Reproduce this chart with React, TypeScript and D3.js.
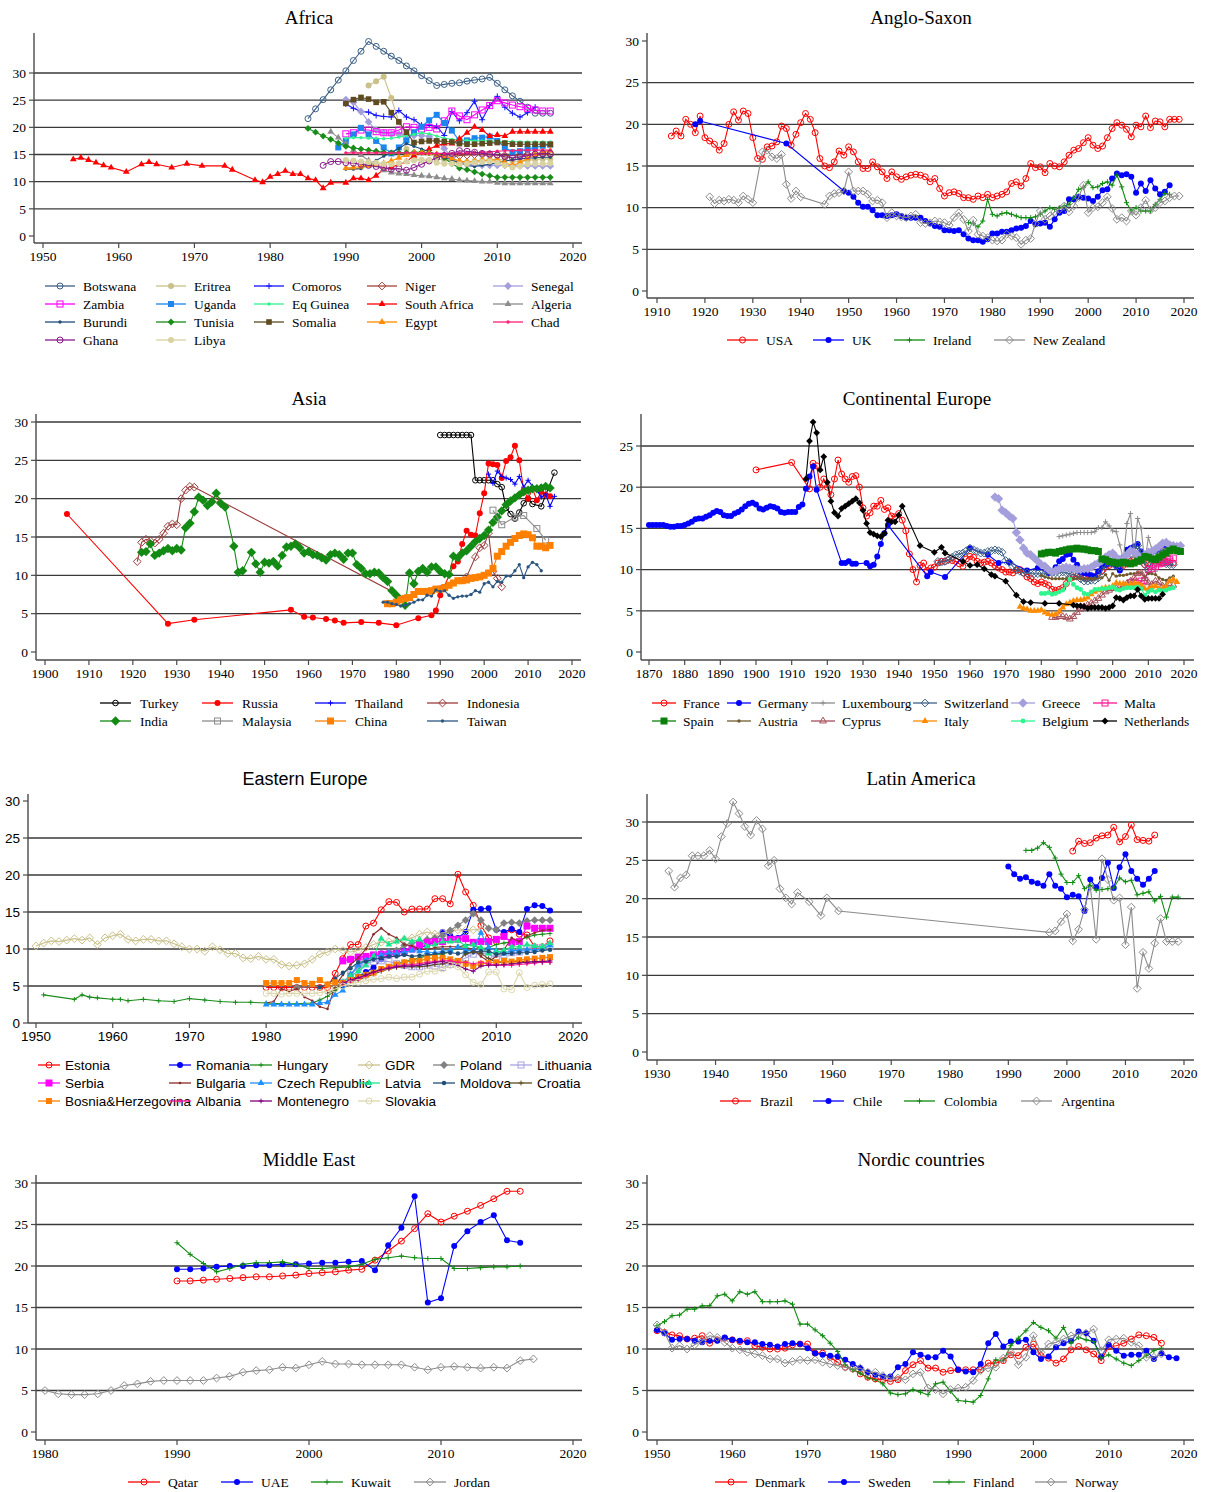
import React from "react";
import * as d3 from "d3";

type Pt = [number, number];
type MarkerKind =
  | "circleH" | "circle" | "dot" | "diamond" | "diamondH"
  | "square" | "squareH" | "triangle" | "triangleH" | "plus";

const annual = (start: number, values: number[]): Pt[] =>
  values.map((v, i) => [start + i, v] as Pt);

const SERIF = "'Liberation Serif', 'Times New Roman', Times, serif";
const SANS = "'Liberation Sans', Arial, Helvetica, sans-serif";

const RED = "#ff0000";
const BLUE = "#0000ff";
const GREEN = "#0f8a0f";
const GRAY = "#8c8c8c";

// ---------------- Africa ----------------
const botswana = annual(1985, [
  21.6, 23.4, 25.1, 26.9, 28.7,
  30.4, 32.3, 34.0, 35.8, 34.9, 34.0, 33.1, 32.3, 31.3, 30.4,
  29.5, 28.6, 27.7, 27.9, 28.1, 28.2, 28.5, 28.7, 28.9, 29.2,
  28.1, 26.9, 25.8, 24.8, 23.7, 22.6, 22.6, 22.6,
]);
const eritrea = annual(1993, [
  27.7, 28.5, 29.3, 25.4, 21.0, 16.0, 14.3,
  14.0, 13.9, 14.2, 14.0, 13.7, 13.5, 13.6, 13.8, 13.9, 14.0,
  14.1, 14.0, 13.8, 13.7, 13.9, 14.1, 14.2, 14.2,
]);
const comoros = annual(1990, [
  24.3, 23.5, 22.9, 22.8, 22.2, 22.0, 21.9, 23.1, 21.9, 21.4,
  20.4, 20.4, 20.2, 18.5, 22.9, 21.2, 22.7, 24.8, 21.4, 24.0,
  25.7, 23.7, 22.6, 21.9, 22.7, 23.7,
]);
const niger = annual(2004, [
  14.6, 14.8, 14.9, 15.0, 15.0, 14.9,
  14.9, 14.8, 14.8, 14.9, 15.0, 15.0, 15.0, 15.0,
]);
const senegal = annual(1990, [
  25.1, 24.6, 22.9, 21.0, 19.5, 19.0, 18.8, 18.7, 18.6, 18.5,
  18.5, 18.3, 17.5, 16.1, 14.5, 13.5, 13.2, 13.1, 13.0, 13.0,
  13.0, 13.0, 12.9, 12.9, 12.9, 12.9, 12.9, 12.9,
]);
const zambia = annual(1990, [
  18.8, 19.0, 19.5, 19.5, 19.2, 19.0, 19.0, 19.5, 20.1, 20.0,
  19.7, 20.0, 19.7, 21.2, 23.0, 22.1, 21.4, 22.3, 23.2, 24.0,
  24.9, 24.5, 24.1, 23.8, 23.5, 23.2, 23.0, 23.0,
]);
const uganda = annual(1989, [
  16.3,
  17.5, 18.7, 19.9, 18.7, 17.5, 16.3, 15.2, 16.3, 17.6, 19.1,
  20.1, 21.3, 22.3, 20.8, 19.4, 17.5, 17.6, 18.0, 18.1, 18.3,
  17.5, 16.3, 15.4, 15.6, 16.0, 16.3, 16.6, 16.8,
]);
const eqGuinea = annual(1990, [
  18.0, 18.1, 18.1, 18.0, 18.0, 17.9, 18.0, 18.2, 18.5, 18.7,
  19.0, 18.8, 18.4, 18.0, 17.8, 17.7, 17.6, 17.5, 17.5, 17.5,
  17.4, 17.4, 17.4, 17.3, 17.3, 17.3, 17.3, 17.3,
]);
const southAfrica: Pt[] = [
  [1954, 14.1], [1955, 14.4], [1956, 14.0], [1957, 13.5], [1958, 13.0], [1959, 12.6],
  [1961, 11.8], [1963, 13.2], [1964, 13.6], [1965, 13.2], [1967, 12.6], [1969, 13.3],
  [1971, 12.9], [1974, 12.9], [1975, 12.2], [1978, 10.3], [1979, 9.9],
  [1980, 10.9], [1981, 11.4], [1982, 12.0], [1983, 11.4], [1984, 11.4], [1985, 10.6],
  [1986, 10.3], [1987, 8.8], [1988, 9.8], [1990, 9.8], [1991, 10.6], [1992, 10.6],
  [1993, 10.3], [1994, 11.1], [1995, 12.3], [1996, 12.6], [1997, 13.2], [1998, 13.7],
  [1999, 14.8], [2000, 15.4], [2001, 16.0], [2002, 16.6], [2003, 17.0], [2004, 17.0],
  [2005, 17.9], [2006, 19.0], [2007, 20.1], [2008, 19.5], [2009, 18.4], [2010, 18.6],
  [2011, 18.4], [2012, 19.2], [2013, 19.2], [2014, 19.2], [2015, 19.2], [2016, 19.2],
  [2017, 19.2],
];
const algeria = annual(1988, [
  19.2, 18.1,
  17.0, 15.8, 14.9, 13.9, 13.0, 12.1, 11.7, 11.5, 11.4, 11.2,
  11.1, 11.0, 10.8, 10.6, 10.5, 10.3, 10.2, 10.1, 10.0, 10.0,
  9.8, 9.7, 9.7, 9.7, 9.7, 9.7, 9.7, 9.7,
]);
const burundi = annual(1990, [
  12.3, 12.3, 12.4, 13.2, 13.9, 14.7, 15.3, 16.1, 17.0, 16.5,
  16.0, 15.5, 15.0, 14.5, 14.0, 13.5, 13.0, 12.8, 13.0, 13.2,
  13.5, 13.8, 14.0, 14.2, 14.3, 14.4, 14.5, 14.5,
]);
const tunisia = annual(1985, [
  19.8, 19.1, 18.4, 17.8, 17.1,
  16.5, 16.2, 16.0, 15.8, 15.6, 15.4, 15.3, 15.3, 15.3, 15.4,
  15.4, 15.3, 15.0, 14.4, 13.3, 12.5, 12.2, 11.8, 11.4, 11.1,
  10.8, 10.8, 10.8, 10.8, 10.8, 10.8, 10.8, 10.8,
]);
const somalia = annual(1990, [
  24.4, 25.1, 25.5, 25.2, 24.6, 24.7, 22.7, 21.0, 19.1, 17.2,
  17.4, 17.5, 17.5, 17.4, 17.3, 17.0, 16.9, 16.9, 17.0, 17.1,
  17.2, 17.1, 16.9, 16.9, 16.9, 16.9, 16.9, 16.9,
]);
const egypt = annual(1990, [
  12.5, 12.6, 12.8, 12.9, 13.2, 13.4, 13.8, 14.4, 14.9, 15.3,
  15.3, 15.2, 15.0, 14.7, 14.3, 13.8, 13.6, 13.7, 13.9, 14.0,
  14.0, 13.5, 13.0, 13.5, 14.3, 15.0, 15.5, 15.7,
]);
const chad = annual(1990, [
  15.3, 15.3, 15.3, 15.3, 15.3, 15.3, 15.3, 15.3, 15.3, 15.3,
  15.2, 15.2, 15.2, 15.2, 15.2, 15.2, 15.2, 15.3, 15.4, 15.5,
  15.6, 15.7, 15.7, 15.8, 15.8, 15.8, 15.8, 15.8,
]);
const ghana = annual(1987, [
  13.0, 13.7, 13.7,
  13.5, 13.4, 13.2, 13.0, 12.8, 12.6, 12.3, 12.4, 12.1, 12.6,
  13.2, 13.8, 14.4, 14.8, 15.2, 15.7, 15.6, 15.4, 15.2, 15.1,
  14.9, 14.6, 14.4, 14.6, 14.8, 15.1, 15.2, 15.2,
]);
const libya = annual(1990, [
  14.0, 13.9, 13.7, 13.6, 13.5, 13.3, 13.2, 13.4, 13.7, 13.9,
  14.0, 14.0, 13.5, 13.3, 13.3, 13.2, 13.3, 13.5, 13.6, 13.7,
  13.5, 13.0, 12.6, 12.9, 13.2, 13.3, 13.3, 13.4,
]);

// ---------------- Anglo-Saxon ----------------
const usa = annual(1913, [
  18.6, 19.2, 18.6, 20.6, 20.0, 19.0, 21.0,
  18.4, 18.0, 17.6, 16.9, 17.7, 20.0, 21.5, 20.5, 21.6, 21.3,
  18.4, 15.9, 15.8, 17.3, 17.4, 17.9, 19.8, 19.5, 17.5, 18.8,
  20.2, 21.3, 20.6, 19.0, 15.9, 15.0, 14.8, 15.5, 16.8, 16.3,
  17.3, 16.7, 15.5, 14.7, 14.7, 15.5, 14.9, 14.3, 13.5, 14.3,
  13.7, 13.4, 13.7, 13.9, 14.0, 13.9, 13.7, 13.1, 13.5, 12.3,
  11.4, 11.8, 11.9, 11.7, 11.2, 11.2, 11.0, 11.4, 11.2, 11.6,
  11.2, 11.4, 11.6, 11.9, 12.9, 13.1, 12.6, 13.5, 15.3, 14.8,
  14.9, 14.2, 15.3, 15.0, 14.9, 15.5, 16.3, 16.9, 17.1, 17.8,
  18.4, 17.5, 17.1, 17.4, 18.4, 19.5, 20.2, 19.9, 19.4, 18.5,
  19.9, 19.7, 21.0, 19.6, 20.4, 20.3, 19.7, 20.6, 20.6, 20.6,
]);
const uk: Pt[] = [
  [1918, 20.0], [1919, 20.4], [1937, 17.7],
  ...annual(1949, [
    12.0,
    11.8, 11.3, 10.6, 10.1, 10.1, 9.7, 9.1, 9.1, 9.0, 9.1,
    9.2, 9.0, 8.8, 8.8, 8.8, 8.8, 8.4, 8.1, 7.8, 7.7,
    7.3, 7.3, 7.2, 7.3, 6.8, 6.3, 6.1, 6.1, 5.9, 6.2,
    6.9, 6.9, 7.1, 7.1, 7.3, 7.5, 7.6, 7.8, 8.4, 8.0,
    8.1, 8.2, 7.7, 8.6, 9.4, 9.6, 11.0, 11.0, 11.3, 11.2,
    11.1, 10.8, 11.3, 12.1, 12.2, 13.5, 14.1, 13.9, 14.0, 13.7,
    11.8, 12.9, 12.0, 13.3, 12.3, 11.6, 11.9, 12.7,
  ]),
];
const ireland = annual(1975, [
  8.2, 8.1, 7.7, 8.4, 11.0,
  9.2, 9.0, 9.3, 9.4, 9.2, 9.0, 8.8, 8.8, 8.8, 8.9,
  9.2, 9.6, 10.0, 9.8, 10.0, 10.2, 10.4, 11.2, 12.2, 12.4,
  13.1, 12.4, 12.5, 12.9, 13.1, 12.7, 13.9, 12.5, 10.6, 9.6,
  10.0, 9.6, 9.6, 9.6, 10.4, 11.0, 11.7, 11.6,
]);
const newZealand: Pt[] = [
  ...annual(1921, [11.3, 10.5, 10.9, 10.8, 11.0, 10.9, 10.6, 11.4, 11.0, 10.6]),
  ...annual(1932, [16.7, 16.9, 16.1, 15.9, 16.4, 12.8, 11.1, 12.0, 11.3]),
  ...annual(1945, [
    10.4, 11.4, 11.7, 11.8, 12.0,
    14.3, 12.0, 12.0, 12.0, 11.6, 10.8, 10.9, 10.6, 8.8, 9.4,
    9.0, 8.9, 8.8, 9.0, 9.2, 8.2, 8.1, 8.2, 8.4, 8.3,
    8.2, 7.9, 8.8, 9.4, 8.6, 7.2, 8.5, 6.8, 6.6, 6.4,
    6.1, 6.0, 6.1, 6.8, 6.6, 6.4, 5.6, 6.1, 6.3, 8.1,
    9.6, 8.6, 9.0, 9.5, 9.8, 10.2, 9.5, 10.2, 11.2, 12.7,
    9.4, 10.0, 10.1, 10.6, 11.3, 9.9, 8.6, 8.8, 8.4, 9.6,
    9.1, 10.0, 10.9, 9.7, 10.0, 10.6, 10.8, 11.2, 11.4, 11.4,
  ]),
];

// ---------------- Asia ----------------
const turkey: Pt[] = [
  ...annual(1990, [28.3, 28.3, 28.3, 28.3, 28.3, 28.3, 28.3, 28.3]),
  ...annual(1998, [22.4, 22.4, 22.4, 22.4, 22.4, 21.9, 21.5, 18.8, 18.0, 17.4, 18.2, 19.4, 20.0, 19.3]),
  [2013, 19.0], [2016, 23.4],
];
const russia: Pt[] = [
  [1905, 18.0], [1928, 3.7], [1934, 4.2], [1956, 5.5], [1959, 4.6], [1961, 4.5],
  [1964, 4.3], [1966, 4.1], [1968, 3.8], [1972, 3.9], [1976, 3.8], [1980, 3.5],
  [1985, 4.4], [1988, 4.8], [1989, 5.4], [1990, 7.4],
  ...annual(1993, [
    11.2, 11.8, 14.1, 15.8, 15.3, 15.2, 18.1,
    20.7, 24.6, 24.5, 24.4, 22.7, 24.9, 25.4, 26.9, 25.0, 21.1,
    20.0, 21.3, 19.8, 20.9, 20.5, 20.3,
  ]),
];
const thailand = annual(2001, [
  23.2, 22.0, 23.6, 22.9, 22.7, 22.5, 21.9, 22.9, 21.5,
  22.4, 21.6, 21.1, 20.2, 20.6, 19.0, 20.3,
]);
const indonesia: Pt[] = [
  ...annual(1921, [11.8, 14.3, 14.7, 14.5, 14.2, 14.7, 15.5, 16.4, 16.7, 16.6, 20.0, 21.1, 21.6, 21.5]),
  [1939, 20.0], [1982, 7.0], [1996, 9.8],
  ...annual(1998, [12.4, 13.6, 13.9, 15.5, 10.5, 9.6, 8.5]),
];
const india: Pt[] = [
  ...annual(1922, [
    13.0, 13.1, 14.1, 12.6, 12.9, 13.2, 13.5, 13.2,
    13.5, 13.3, 16.2, 16.8, 18.3, 20.2, 19.8, 19.1, 19.6, 20.7,
    19.4, 18.9,
  ]),
  [1943, 13.8], [1944, 10.4], [1945, 10.6],
  ...annual(1947, [
    13.0, 11.5, 10.4,
    11.7, 11.6, 11.8, 11.2, 12.6, 13.7, 13.8, 14.1, 13.6, 12.9,
    13.1, 12.7, 12.6, 12.3, 12.0, 12.7, 12.9, 12.7, 12.1, 12.9,
    12.9, 11.4, 10.9, 10.2, 10.2, 10.4, 10.3, 9.7, 9.2, 8.0,
    7.4,
  ]),
  ...annual(1982, [
    6.1, 10.3, 8.9, 10.5, 10.9, 10.4, 11.1, 11.1,
    10.5, 10.2, 10.1, 12.5, 12.3, 12.9, 13.2, 13.8, 14.4, 14.8,
    15.2, 15.9, 16.9, 17.6, 18.4, 19.2, 19.7, 20.1, 20.5, 20.9,
    21.1, 21.3, 21.3, 21.4, 21.6, 21.4,
  ]),
];
const malaysia: Pt[] = [
  [2002, 18.5], [2004, 16.6], [2007, 17.6], [2009, 17.8], [2012, 16.1], [2014, 14.6],
];
const china = annual(1978, [
  6.3, 6.3, 6.5, 6.8, 7.0, 7.1, 7.5, 7.9, 7.9, 7.9,
  8.0, 8.2, 8.2, 8.4, 8.7, 9.0, 9.3, 9.3, 9.4, 9.6,
  9.7, 9.8, 10.0, 10.3, 10.9, 12.5, 13.1, 13.8, 14.3, 14.8,
  15.2, 15.4, 15.3, 14.9, 13.8, 13.8, 13.6, 13.9,
]);
const taiwan = annual(1977, [
  6.5, 6.5, 6.3, 6.2, 6.0, 6.1, 6.3, 6.5, 6.8, 6.8,
  7.4, 7.3, 8.1, 7.9, 8.0, 7.4, 7.0, 7.2, 7.3, 7.3,
  7.5, 8.0, 7.8, 8.9, 9.1, 8.5, 9.2, 9.1, 9.9, 9.9,
  10.6, 11.4, 9.7, 11.1, 11.7, 11.4, 10.6,
]);

// ---------------- Continental Europe ----------------
const france: Pt[] = [
  [1900, 22.1], [1910, 23.0], [1915, 19.8],
  ...annual(1916, [
    22.9, 22.6, 20.0, 21.0,
    20.0, 19.1, 21.0, 23.3, 21.6, 21.0, 20.6, 21.3, 21.4, 20.0,
    17.5, 16.5, 16.9, 17.7, 17.7, 18.4, 17.3, 17.5, 16.5, 16.4,
    16.8, 16.0, 14.7, 11.9, 10.0, 8.5, 10.5, 10.8, 9.9, 10.2,
    10.3, 10.8, 11.0, 11.0, 11.2, 11.1, 11.0, 10.7, 10.4, 11.3,
    11.6, 11.5, 11.0, 10.8, 10.9, 11.0, 10.8, 10.5, 10.2, 10.0,
    9.7, 9.7, 9.6, 9.9, 10.0, 9.6, 9.1, 8.9, 8.5, 8.3,
    8.5, 8.3, 8.1, 7.6, 7.5, 7.6, 7.8, 8.3, 8.9, 9.1,
    9.2, 9.2, 9.0, 8.9, 9.0, 9.1, 9.6, 9.9, 10.3, 10.5,
    10.7, 10.8, 10.4, 10.5, 10.7, 11.0, 11.2, 11.3, 11.1, 10.6,
    10.8, 11.3, 10.9, 10.9, 10.8, 10.9, 10.8, 10.8,
  ]),
];
const germany: Pt[] = [
  ...annual(1870, [
    15.4, 15.4, 15.4, 15.4, 15.4, 15.3, 15.2, 15.2, 15.3, 15.3,
    15.4, 15.6, 15.8, 16.1, 16.2, 16.2, 16.4, 16.6, 16.9, 17.1,
    17.0, 16.6, 16.5, 16.5, 16.8, 17.0, 17.3, 17.7, 18.0, 18.1,
    17.9, 17.4, 17.3, 17.5, 17.7, 17.6, 17.4, 17.0, 16.9, 17.0,
    17.0, 17.0, 17.6, 17.9, 19.8, 21.3, 22.5, 19.7,
  ]),
  [1924, 10.8], [1925, 10.8], [1926, 11.0], [1927, 10.7], [1928, 10.7],
  [1931, 10.8], [1932, 10.4], [1933, 10.6], [1934, 11.6], [1935, 13.1], [1936, 14.4], [1937, 15.4],
  [1948, 9.2], [1949, 9.7], [1953, 9.1], [1960, 12.6], [1965, 11.8], [1968, 10.8],
  [1971, 10.9], [1976, 9.9], [1979, 10.2], [1982, 9.6],
  ...annual(1984, [
    10.3, 11.0, 11.3, 11.8, 11.9, 11.2,
    10.6, 9.7, 9.6, 9.5, 9.3, 9.2, 9.8, 10.4, 10.6, 10.7,
    10.8, 10.4, 9.9, 11.5, 12.4, 12.6, 12.8, 13.1, 12.2, 11.5,
    11.8, 12.1, 12.3, 12.4, 12.6, 12.6,
  ]),
];
const luxembourg = annual(1985, [
  14.0, 14.1, 14.2, 14.3, 14.4,
  14.5, 14.5, 14.5, 14.5, 14.5, 14.6, 15.1, 15.1, 15.8, 15.3,
  14.7, 14.6, 13.0, 11.3, 15.6, 16.8, 11.5, 16.2, 15.0, 10.8,
  13.9, 12.5, 9.8, 12.0, 12.6, 12.4, 12.5, 12.6,
]);
const switzerland = annual(1951, [
  11.0, 10.9, 11.0, 11.2, 11.5, 11.8, 11.9, 12.0, 12.3,
  12.6, 12.4, 12.2, 12.0, 12.0, 12.2, 12.3, 12.4, 12.3, 12.1,
  11.1, 10.9, 10.4, 10.0, 9.8, 9.6, 9.6, 9.5, 9.5, 9.5,
  9.5, 9.5, 9.6, 9.6, 9.6, 9.6, 9.7, 9.6, 9.5, 9.4,
  9.2, 8.9, 8.6, 8.6, 8.7, 8.7, 9.0, 9.8, 10.5, 10.8,
  10.8, 10.5, 10.3, 11.2, 11.5, 11.9, 12.5, 12.9, 12.0, 10.6,
  10.0, 11.0, 11.7, 11.3, 10.9, 10.7, 10.6, 10.6,
]);
const greece = annual(1967, [
  18.8, 18.6, 17.2,
  16.9, 16.5, 16.2, 14.5, 13.6, 12.6, 12.0, 11.8, 11.4, 11.0,
  10.6, 10.4, 10.0, 9.7, 9.9, 10.1, 10.2, 10.3, 10.2, 10.1,
  10.0, 10.0, 10.1, 10.1, 10.3, 10.6, 10.8, 11.1, 11.5, 11.8,
  12.0, 11.5, 11.2, 11.4, 11.8, 12.3, 12.1, 11.8, 11.5, 11.8,
  12.1, 12.2, 12.5, 12.8, 13.2, 13.3, 13.0, 12.9, 12.8, 12.9,
]);
const malta = annual(2005, [8.4, 8.5, 8.3, 8.6, 8.7, 10.0, 10.1, 10.4, 10.7, 10.8, 11.0, 11.2, 11.4]);
const spain = annual(1980, [
  11.9, 12.0, 12.1, 12.1, 12.0, 12.2, 12.3, 12.4, 12.5, 12.5,
  12.6, 12.5, 12.5, 12.4, 12.3, 12.3, 12.2, 11.3, 11.2, 11.0,
  10.9, 10.8, 10.8, 10.9, 10.8, 10.7, 10.8, 11.0, 11.2, 11.6,
  11.5, 11.3, 11.2, 11.5, 11.8, 12.0, 12.3, 12.5, 12.3, 12.2,
]);
const austria = annual(1980, [
  9.3, 9.1, 9.0, 8.9, 8.9, 8.9, 8.9, 8.9, 8.9, 8.9,
  8.9, 8.9, 8.9, 8.9, 8.9, 8.9, 9.0, 9.0, 9.4, 8.7,
  9.5, 9.2, 9.3, 9.3, 9.4, 9.5, 9.5, 9.6, 9.6, 9.1,
  9.5, 9.5, 9.4, 9.0, 8.8, 8.7, 9.0, 9.2,
]);
const cyprus = annual(1983, [
  4.2, 4.2, 4.3, 4.3, 4.2, 4.0, 4.3,
  4.8, 5.2, 5.5, 5.7, 5.9, 6.2, 6.5, 6.9, 7.3, 7.5,
  7.7, 7.7, 7.9, 8.0, 8.3, 8.6, 9.0, 9.5, 9.6, 8.9,
  8.4, 8.2, 8.6, 8.4, 8.0, 8.0, 8.1, 8.1,
]);
const italy = annual(1974, [
  5.5, 5.3, 5.2, 5.0, 5.0, 5.0,
  5.1, 4.8, 4.6, 4.5, 4.6, 4.9, 5.4, 5.8, 6.0, 6.2,
  6.3, 6.3, 6.4, 6.6, 7.0, 7.3, 7.5, 7.7, 7.8, 7.8,
  8.0, 8.4, 8.3, 8.3, 8.1, 8.2, 8.3, 8.3, 8.1, 7.7,
  7.6, 7.9, 8.0, 7.7, 7.7, 8.0, 8.6, 8.8, 8.5,
]);
const belgium = annual(1980, [
  7.1, 7.1, 7.2, 7.0, 7.1, 7.3, 7.5, 8.2, 8.8, 8.2,
  7.8, 7.6, 7.1, 7.0, 7.3, 7.6, 7.6, 7.7, 7.7, 7.8,
  7.9, 7.6, 7.5, 7.7, 7.8, 7.8, 7.8, 7.9, 7.7, 6.9,
  7.3, 7.5, 7.3, 7.5, 7.4, 7.5, 7.7, 7.8,
]);
const netherlands: Pt[] = [
  ...annual(1914, [
    21.0, 25.6, 27.9, 26.6, 22.1, 23.7,
    20.6, 18.3, 16.9, 16.5, 17.4, 17.7, 18.0, 18.3, 18.6, 18.1,
    17.2, 15.6, 14.5, 14.3, 14.1, 14.0, 14.4, 16.0, 15.8, 15.8,
    16.6, 17.7,
  ]),
  [1946, 12.9], [1950, 12.1], [1952, 12.7], [1953, 12.0], [1958, 11.0], [1960, 10.5],
  [1962, 10.6], [1964, 10.1], [1966, 9.4], [1967, 9.2], [1970, 8.6], [1973, 6.9],
  [1975, 6.1], [1977, 6.0], [1981, 5.9], [1985, 5.9],
  ...annual(1989, [
    5.7,
    5.6, 5.6, 5.5, 5.3, 5.4, 5.4, 5.4, 5.4, 5.3, 5.4,
    5.6, 6.6, 6.5, 6.3, 6.6, 6.8, 6.8, 7.6, 6.8, 6.4,
    6.5, 6.5, 6.5, 6.5, 7.0,
  ]),
];

// ---------------- Eastern Europe ----------------
const estonia = annual(1980, [
  4.8, 4.8, 4.8, 4.8, 4.8, 4.8, 4.8, 4.8, 4.8, 6.7,
  8.7, 10.6, 10.6, 13.1, 13.5, 15.3, 16.4, 16.3, 15.0, 15.4,
  15.4, 15.4, 16.8, 16.8, 16.1, 20.1, 17.7, 15.9, 13.2, 11.5,
  11.0, 12.0, 12.6, 12.0, 11.9, 10.3, 10.3, 11.1,
]);
const romania = annual(1990, [
  5.0, 5.8, 6.3, 6.9, 7.5, 8.6, 9.2, 9.5, 9.8, 10.0,
  10.2, 10.5, 11.0, 12.3, 11.8, 11.5, 12.3, 15.3, 15.4, 15.5,
  12.6, 12.3, 12.7, 12.3, 15.4, 15.9, 15.8, 15.2,
]);
const hungary: Pt[] = [
  [1951, 3.8], [1955, 3.2], [1956, 3.8], [1957, 3.5], [1958, 3.4], [1960, 3.2],
  [1961, 3.2], [1962, 3.0], [1964, 3.2], [1966, 3.0], [1968, 2.9], [1970, 3.3],
  [1972, 3.1], [1974, 2.9], [1976, 2.8], [1978, 2.8], [1980, 2.7], [1982, 2.6],
  [1984, 2.6], [1986, 2.7],
  ...annual(1987, [
    3.1, 3.6, 4.4,
    5.3, 5.9, 6.3, 6.7, 7.0, 7.3, 7.6, 8.0, 8.3, 8.5,
    8.8, 9.1, 9.3, 9.3, 9.7, 10.2, 10.6, 10.5, 10.0, 10.2,
    10.6, 10.8, 11.0, 11.2, 11.6, 11.9, 12.0, 12.1,
  ]),
];
const gdr = annual(1950, [
  10.4, 10.8, 11.1, 11.0, 11.2, 11.4, 11.2, 11.5, 10.6, 11.5,
  11.8, 12.0, 11.3, 11.1, 11.3, 11.3, 11.1, 11.1, 10.7, 10.3,
  10.0, 10.0, 9.7, 10.3, 9.9, 9.4, 9.4, 8.8, 8.7, 9.0,
  8.6, 8.6, 7.9, 7.7, 7.8, 8.0, 8.6, 9.3, 9.6, 10.0,
  9.8, 9.6, 9.8, 10.2, 10.6, 10.9, 11.0, 11.1, 11.3, 11.5,
  12.0, 12.3, 12.0, 12.2, 12.4, 12.6, 12.5, 12.6, 12.6,
]);
const poland: Pt[] = [
  [1984, 4.8],
  ...annual(1989, [
    5.0,
    5.5, 6.5, 7.6, 8.5, 9.1, 9.4, 9.6, 9.8, 10.5, 10.8,
    11.0, 11.3, 11.5, 11.8, 12.5, 13.2, 13.9, 14.8, 13.9, 12.8,
    12.6, 13.5, 13.6, 13.5, 13.8, 13.9, 13.9, 13.9,
  ]),
];
const lithuania = annual(1990, [
  5.5, 6.5, 7.5, 8.0, 8.3, 8.4, 8.3, 8.0, 7.8, 7.6,
  7.6, 7.8, 7.7, 7.5, 7.9, 8.3, 8.8, 9.3, 9.6, 9.2,
  8.9, 9.2, 9.5, 9.6, 10.1, 10.2, 10.2, 10.4,
]);
const serbia = annual(1990, [
  8.4, 8.6, 8.9, 9.0, 9.2, 9.3, 9.3, 9.4, 9.6, 10.0,
  10.5, 10.9, 11.0, 11.0, 11.3, 11.3, 11.4, 10.9, 11.0, 11.0,
  11.3, 11.7, 10.9, 11.0, 13.1, 12.8, 12.8, 12.8,
]);
const bulgaria = annual(1980, [
  2.7, 2.9, 4.6, 4.3, 4.6, 3.5, 3.0, 2.2, 1.9, 5.0,
  6.5, 7.9, 8.8, 10.0, 12.0, 12.8, 12.0, 11.5, 10.6, 10.4,
  10.0, 9.9, 10.2, 10.3, 10.3, 10.3, 10.2, 10.0, 9.0, 8.3,
  9.0, 9.9, 11.5, 11.0, 11.8, 12.2, 12.5, 12.6,
]);
const czech = annual(1980, [
  2.5, 2.5, 2.5, 2.5, 2.5, 2.5, 2.5, 2.7, 2.8, 3.8,
  4.4, 6.5, 7.8, 8.5, 9.0, 9.2, 9.5, 9.4, 9.6, 9.8,
  9.7, 9.6, 9.5, 9.7, 9.8, 10.3, 9.8, 9.8, 12.2, 10.2,
  9.8, 9.4, 9.8, 9.8, 9.9, 9.9, 10.0, 10.5,
]);
const latvia = annual(1990, [
  5.5, 6.3, 7.0, 7.8, 9.0, 11.4, 10.6, 11.0, 11.4, 11.0,
  11.3, 10.4, 10.6, 11.0, 11.0, 11.1, 10.4, 10.6, 10.2, 9.4,
  9.6, 9.8, 10.3, 10.3, 10.6, 10.4, 10.3, 10.8,
]);
const moldova = annual(1987, [
  4.8, 5.3, 6.0,
  6.8, 7.4, 8.2, 8.3, 8.6, 8.8, 9.0, 9.0, 9.2, 9.0,
  9.1, 9.2, 9.3, 9.5, 9.5, 9.4, 9.5, 9.6, 9.7, 9.7,
  9.3, 9.4, 9.4, 9.5, 9.5, 9.6, 9.8, 9.9,
]);
const croatia = annual(1988, [
  4.0, 4.6,
  5.3, 5.6, 5.8, 6.2, 6.6, 7.0, 7.3, 7.5, 7.6, 7.6,
  7.6, 7.7, 7.9, 8.0, 8.2, 8.4, 9.3, 9.6, 9.4, 8.7,
  8.2, 8.2, 8.3, 8.3, 8.3, 8.2, 8.2, 8.2,
]);
const bosnia = annual(1980, [
  5.4, 5.4, 5.4, 5.4, 5.8, 5.4, 5.3, 5.8, 5.2, 5.5,
  5.4, 5.8, 6.2, 6.5, 6.8, 7.3, 7.6, 7.9, 8.2, 8.4,
  8.4, 8.7, 8.8, 8.8, 8.6, 8.4, 8.0, 7.7, 8.0, 8.1,
  8.2, 8.4, 8.3, 8.5, 8.6, 8.7, 8.8, 8.9,
]);
const albania = annual(1990, [
  5.3, 5.7, 6.0, 6.4, 6.8, 7.2, 7.5, 7.7, 7.8, 7.9,
  8.0, 8.2, 8.3, 8.4, 8.4, 8.2, 8.2, 8.0, 8.2, 8.0,
  7.8, 7.8, 7.8, 7.9, 8.0, 8.1, 8.2, 8.2,
]);
const montenegro = annual(1990, [
  5.4, 5.8, 6.1, 6.5, 6.9, 7.2, 7.4, 7.6, 7.7, 7.7,
  7.8, 8.0, 8.2, 8.3, 8.0, 7.8, 7.3, 7.0, 7.7, 7.8,
  7.8, 7.9, 8.0, 8.1, 8.2, 8.3, 8.3, 8.4,
]);
const slovakia = annual(1980, [
  4.0, 4.0, 3.9, 4.0, 4.0, 4.0, 4.0, 4.1, 4.3, 4.6,
  5.0, 5.3, 5.5, 5.7, 5.9, 6.0, 6.2, 6.0, 6.2, 6.2,
  6.6, 7.0, 7.0, 7.3, 7.8, 7.6, 6.5, 5.5, 5.2, 6.9,
  6.9, 4.6, 4.5, 6.8, 4.8, 5.1, 5.2, 5.3,
]);

// ---------------- Latin America ----------------
const brazil = annual(2001, [26.2, 27.5, 27.2, 27.3, 27.9, 28.2, 28.3, 29.3, 27.4, 28.1, 29.6, 27.7, 27.6, 27.5, 28.3]);
const chile = annual(1990, [
  24.2, 23.2, 22.6, 22.8, 22.2, 22.0, 21.7, 23.2, 21.7, 21.3,
  20.2, 20.5, 20.3, 18.4, 22.5, 21.5, 22.7, 24.7, 21.4, 24.1,
  25.8, 23.6, 22.6, 21.8, 22.6, 23.6,
]);
const colombia = annual(1993, [
  26.3, 26.3, 26.6, 27.3, 26.7, 25.3, 23.2,
  22.1, 22.1, 23.0, 21.3, 21.7, 21.1, 21.2, 21.3, 21.4, 22.7,
  22.2, 22.4, 20.5, 20.7, 20.9, 19.7, 20.3, 17.6, 20.2, 20.2,
]);
const argentina: Pt[] = [
  ...annual(1932, [
    23.6, 21.5, 22.7, 23.1, 25.6, 25.6, 25.6, 26.3,
    25.2, 28.1, 29.8, 32.6, 31.1, 29.4, 28.3, 30.2, 29.1, 24.3,
    25.0, 21.3, 20.1, 19.3, 20.8,
  ]),
  [1956, 19.6], [1958, 17.8], [1959, 20.1], [1961, 18.4],
  ...annual(1997, [
    15.6, 15.8, 17.0,
    18.0, 14.5, 16.0, 18.6, 21.6, 14.7, 25.2, 22.5, 19.8, 20.1,
    14.0, 18.9, 8.3, 13.0, 10.9, 14.2, 17.4, 14.4, 14.4, 14.4,
  ]),
];

// ---------------- Middle East ----------------
const qatar = annual(1990, [
  18.2, 18.2, 18.3, 18.4, 18.5, 18.6, 18.7, 18.7, 18.8, 18.9,
  19.1, 19.2, 19.3, 19.5, 19.6, 20.7, 21.8, 23.0, 24.5, 26.3,
  25.3, 26.0, 26.6, 27.3, 28.1, 29.0, 29.0,
]);
const uae = annual(1990, [
  19.6, 19.6, 19.7, 19.9, 20.0, 20.0, 20.1, 20.1, 20.2, 20.2,
  20.3, 20.4, 20.4, 20.5, 20.6, 19.5, 22.5, 24.6, 28.4, 15.6,
  16.1, 22.4, 24.2, 25.3, 26.1, 23.1, 22.8,
]);
const kuwait = annual(1990, [
  22.8, 21.4, 20.3, 19.3, 19.7, 20.2, 20.4, 20.4, 20.5, 20.2,
  19.7, 19.7, 19.8, 19.9, 20.2, 20.8, 21.0, 21.2, 21.0, 20.9,
  20.9, 19.7, 19.7, 19.8, 19.9, 19.9, 20.0,
]);
const jordan = annual(1980, [
  5.0, 4.6, 4.5, 4.5, 4.6, 5.0, 5.6, 5.8, 6.1, 6.2,
  6.2, 6.2, 6.2, 6.5, 6.7, 7.2, 7.4, 7.5, 7.8, 7.7,
  8.1, 8.5, 8.2, 8.2, 8.1, 8.1, 8.1, 8.1, 7.8, 7.5,
  7.8, 7.9, 7.8, 7.7, 7.8, 7.7, 8.6, 8.8,
]);

// ---------------- Nordic countries ----------------
const denmark = annual(1950, [
  12.2, 12.0, 11.7, 11.6, 11.2, 11.3, 11.6, 10.7, 11.1, 11.3,
  11.1, 10.9, 11.0, 10.4, 10.2, 10.0, 10.0, 10.1, 10.5, 10.6,
  10.6, 9.5, 9.5, 9.0, 8.4, 7.8, 7.6, 7.0, 6.6, 6.4,
  6.3, 6.1, 6.3, 7.4, 8.1, 8.6, 7.7, 7.7, 7.2, 7.4,
  7.5, 7.5, 7.5, 7.5, 8.3, 8.3, 8.6, 9.3, 9.2, 10.2,
  10.6, 9.2, 8.9, 8.3, 8.8, 9.9, 10.3, 9.9, 9.4, 8.6,
  10.3, 10.4, 10.7, 11.2, 11.7, 11.6, 11.4, 10.7,
]);
const sweden = annual(1950, [
  12.3, 11.9, 11.1, 11.2, 11.2, 11.0, 10.8, 11.0, 11.0, 11.4,
  11.1, 11.0, 10.8, 10.8, 10.6, 10.5, 10.3, 10.6, 10.7, 10.6,
  10.1, 9.5, 9.3, 9.2, 9.1, 8.7, 8.2, 7.7, 7.2, 6.9,
  6.7, 6.7, 7.8, 8.2, 9.6, 9.3, 9.0, 9.0, 9.8, 9.1,
  7.5, 7.3, 7.2, 8.2, 10.7, 11.8, 10.3, 10.9, 10.9, 11.1,
  9.6, 8.8, 9.1, 10.2, 10.7, 11.0, 12.1, 11.9, 11.0, 9.1,
  10.5, 9.8, 9.2, 9.3, 9.3, 9.8, 8.8, 9.5, 9.0, 8.9,
]);
const finland = annual(1950, [
  12.8, 13.3, 14.0, 14.1, 14.8, 14.8, 15.2, 15.2, 16.4, 16.6,
  15.8, 16.9, 16.6, 16.9, 15.7, 15.7, 15.7, 15.8, 15.4, 13.0,
  13.0, 12.3, 11.6, 10.7, 9.7, 8.1, 7.5, 7.1, 6.5, 6.3,
  5.8, 4.7, 4.5, 4.6, 5.1, 4.8, 4.5, 5.8, 6.0, 4.9,
  3.8, 3.7, 3.6, 4.4, 6.4, 8.7, 8.6, 10.4, 11.3, 12.2,
  13.2, 12.6, 12.2, 11.3, 12.6, 10.7, 11.4, 11.1, 10.9, 8.9,
  9.3, 8.8, 8.3, 8.0, 8.6, 9.2, 9.8, 10.1,
]);
const norway = annual(1950, [
  12.9, 12.0, 10.1, 10.4, 10.0, 10.5, 11.0, 11.6, 11.4, 10.8,
  10.1, 9.9, 9.6, 9.4, 9.2, 8.8, 8.8, 8.3, 8.5, 8.7,
  8.6, 8.7, 8.4, 8.2, 8.0, 7.8, 7.6, 7.7, 7.2, 7.2,
  6.8, 6.5, 6.5, 6.3, 7.0, 7.2, 5.3, 5.1, 4.6, 5.1,
  5.3, 5.4, 6.2, 7.4, 7.7, 7.8, 8.9, 9.6, 8.1, 9.0,
  11.6, 9.6, 10.6, 10.8, 11.2, 11.6, 11.8, 11.9, 12.4, 9.8,
  11.1, 11.2, 11.3, 10.8, 10.4, 9.0, 9.0, 9.4,
]);

// ---------------- tick values ----------------
const ticks1950 = [1950, 1960, 1970, 1980, 1990, 2000, 2010, 2020];
const ticks1910 = [1910, 1920, 1930, 1940, 1950, 1960, 1970, 1980, 1990, 2000, 2010, 2020];
const ticks1900 = [1900, 1910, 1920, 1930, 1940, 1950, 1960, 1970, 1980, 1990, 2000, 2010, 2020];
const ticks1870 = [1870, 1880, 1890, 1900, 1910, 1920, 1930, 1940, 1950, 1960, 1970, 1980, 1990, 2000, 2010, 2020];
const ticks1930 = [1930, 1940, 1950, 1960, 1970, 1980, 1990, 2000, 2010, 2020];
const ticks1980 = [1980, 1990, 2000, 2010, 2020];
const yTicks30 = [0, 5, 10, 15, 20, 25, 30];
const yTicks25 = [0, 5, 10, 15, 20, 25];

interface Series { name: string; data: Pt[]; color: string; marker: MarkerKind; size?: number }
interface PanelSpec {
  title: string; titleX: number; titleY: number; font: string; titleSize: number;
  yAxisX: number; xAxisY: number; top: number; right: number;
  xPix: [number, number]; yZeroPix: number; yRefPix: number; yRef: number;
  xTicks: number[]; yTicks: number[]; grid: number[];
  series: Series[];
  legend: { cols: number[]; rows: number[]; symLen: number; gap: number };
}

const panels: PanelSpec[] = [
  {
    title: "Africa", titleX: 309, titleY: 24, font: SERIF, titleSize: 19,
    yAxisX: 34, xAxisY: 243, top: 33, right: 582,
    xPix: [43, 573], yZeroPix: 236, yRefPix: 73, yRef: 30,
    xTicks: ticks1950, yTicks: yTicks30, grid: [5, 10, 15, 20, 25, 30],
    series: [
      { name: "Botswana", data: botswana, color: "#3d6186", marker: "circleH" },
      { name: "Eritrea", data: eritrea, color: "#c9c08a", marker: "circle" },
      { name: "Comoros", data: comoros, color: "#1414ff", marker: "plus" },
      { name: "Niger", data: niger, color: "#a2453a", marker: "diamondH" },
      { name: "Senegal", data: senegal, color: "#a49fdc", marker: "diamond" },
      { name: "Zambia", data: zambia, color: "#ff00ff", marker: "squareH" },
      { name: "Uganda", data: uganda, color: "#1c86ee", marker: "square" },
      { name: "Eq Guinea", data: eqGuinea, color: "#2ef58e", marker: "dot" },
      { name: "South Africa", data: southAfrica, color: RED, marker: "triangle" },
      { name: "Algeria", data: algeria, color: GRAY, marker: "triangle" },
      { name: "Burundi", data: burundi, color: "#1f4e79", marker: "dot" },
      { name: "Tunisia", data: tunisia, color: "#1a8c1a", marker: "diamond", size: 2.6 },
      { name: "Somalia", data: somalia, color: "#5e4b1f", marker: "square", size: 2.8 },
      { name: "Egypt", data: egypt, color: "#ff8c00", marker: "triangle" },
      { name: "Chad", data: chad, color: "#ff1e78", marker: "dot" },
      { name: "Ghana", data: ghana, color: "#8b1a8b", marker: "circleH" },
      { name: "Libya", data: libya, color: "#d9d3a2", marker: "circle" },
    ],
    legend: { cols: [45, 156, 254, 367, 493], rows: [286, 304, 322, 340], symLen: 30, gap: 8 },
  },
  {
    title: "Anglo-Saxon", titleX: 921, titleY: 24, font: SERIF, titleSize: 19,
    yAxisX: 647, xAxisY: 298, top: 33, right: 1194,
    xPix: [657, 1184], yZeroPix: 291, yRefPix: 41, yRef: 30,
    xTicks: ticks1910, yTicks: yTicks30, grid: [5, 10, 15, 20, 25],
    series: [
      { name: "USA", data: usa, color: RED, marker: "circleH" },
      { name: "UK", data: uk, color: BLUE, marker: "circle" },
      { name: "Ireland", data: ireland, color: GREEN, marker: "plus", size: 2.6 },
      { name: "New Zealand", data: newZealand, color: GRAY, marker: "diamondH" },
    ],
    legend: { cols: [727, 813, 894, 994], rows: [340], symLen: 31, gap: 8 },
  },
  {
    title: "Asia", titleX: 309, titleY: 405, font: SERIF, titleSize: 19,
    yAxisX: 36, xAxisY: 660, top: 414, right: 581,
    xPix: [45, 572], yZeroPix: 652, yRefPix: 422, yRef: 30,
    xTicks: ticks1900, yTicks: yTicks30, grid: [5, 10, 15, 20, 25, 30],
    series: [
      { name: "Turkey", data: turkey, color: "#000000", marker: "circleH", size: 2.8 },
      { name: "Russia", data: russia, color: RED, marker: "circle" },
      { name: "Thailand", data: thailand, color: BLUE, marker: "plus", size: 2.6 },
      { name: "Indonesia", data: indonesia, color: "#9c3c3c", marker: "diamondH" },
      { name: "India", data: india, color: "#138a13", marker: "diamond", size: 3.6 },
      { name: "Malaysia", data: malaysia, color: GRAY, marker: "squareH" },
      { name: "China", data: china, color: "#ff8000", marker: "square", size: 3.5 },
      { name: "Taiwan", data: taiwan, color: "#2a5580", marker: "dot" },
    ],
    legend: { cols: [100, 202, 315, 427], rows: [703, 721], symLen: 31, gap: 9 },
  },
  {
    title: "Continental Europe", titleX: 917, titleY: 405, font: SERIF, titleSize: 19,
    yAxisX: 641, xAxisY: 660, top: 414, right: 1194,
    xPix: [649, 1184], yZeroPix: 652, yRefPix: 446, yRef: 25,
    xTicks: ticks1870, yTicks: yTicks25, grid: [5, 10, 15, 20, 25],
    series: [
      { name: "France", data: france, color: RED, marker: "circleH" },
      { name: "Germany", data: germany, color: BLUE, marker: "circle" },
      { name: "Luxembourg", data: luxembourg, color: GRAY, marker: "plus", size: 2.6 },
      { name: "Switzerland", data: switzerland, color: "#3d6186", marker: "diamondH" },
      { name: "Greece", data: greece, color: "#a49fdc", marker: "diamond", size: 3.6 },
      { name: "Malta", data: malta, color: "#ff1493", marker: "squareH" },
      { name: "Spain", data: spain, color: "#0a800a", marker: "square", size: 3.5 },
      { name: "Austria", data: austria, color: "#6e5a2e", marker: "dot" },
      { name: "Cyprus", data: cyprus, color: "#a5505a", marker: "triangleH" },
      { name: "Italy", data: italy, color: "#ff8c00", marker: "triangle" },
      { name: "Belgium", data: belgium, color: "#2ef58e", marker: "circle", size: 2.4 },
      { name: "Netherlands", data: netherlands, color: "#000000", marker: "diamond", size: 2.6 },
    ],
    legend: { cols: [652, 727, 811, 913, 1011, 1093], rows: [703, 721], symLen: 24, gap: 7 },
  },
  {
    title: "Eastern Europe", titleX: 305, titleY: 785, font: SANS, titleSize: 18,
    yAxisX: 28, xAxisY: 1023, top: 794, right: 582,
    xPix: [36, 573], yZeroPix: 1023, yRefPix: 801, yRef: 30,
    xTicks: ticks1950, yTicks: yTicks30, grid: [5, 10, 15, 20, 25],
    series: [
      { name: "Estonia", data: estonia, color: RED, marker: "circleH" },
      { name: "Romania", data: romania, color: BLUE, marker: "circle" },
      { name: "Hungary", data: hungary, color: "#1a8c1a", marker: "plus", size: 2.4 },
      { name: "GDR", data: gdr, color: "#c9c08a", marker: "diamondH" },
      { name: "Poland", data: poland, color: "#808080", marker: "diamond" },
      { name: "Lithuania", data: lithuania, color: "#a9a2e2", marker: "squareH" },
      { name: "Serbia", data: serbia, color: "#ff00ff", marker: "square", size: 3.5 },
      { name: "Bulgaria", data: bulgaria, color: "#8b2a2a", marker: "dot", size: 2.4 },
      { name: "Czech Republic", data: czech, color: "#1e90ff", marker: "triangle" },
      { name: "Latvia", data: latvia, color: "#19e68c", marker: "triangle" },
      { name: "Moldova", data: moldova, color: "#1f4e79", marker: "circle", size: 2.2 },
      { name: "Croatia", data: croatia, color: "#5e4b1f", marker: "plus", size: 2.4 },
      { name: "Bosnia&Herzegovina", data: bosnia, color: "#ff8000", marker: "square", size: 3.0 },
      { name: "Albania", data: albania, color: "#ff1493", marker: "plus", size: 2.4 },
      { name: "Montenegro", data: montenegro, color: "#800080", marker: "plus", size: 2.4 },
      { name: "Slovakia", data: slovakia, color: "#dcd7ae", marker: "circleH" },
    ],
    legend: { cols: [38, 169, 250, 358, 433, 510], rows: [1065, 1083, 1101], symLen: 22, gap: 5 },
  },
  {
    title: "Latin America", titleX: 921, titleY: 785, font: SERIF, titleSize: 19,
    yAxisX: 647, xAxisY: 1060, top: 794, right: 1194,
    xPix: [657, 1184], yZeroPix: 1052, yRefPix: 822, yRef: 30,
    xTicks: ticks1930, yTicks: yTicks30, grid: [5, 10, 15, 20, 25, 30],
    series: [
      { name: "Brazil", data: brazil, color: RED, marker: "circleH" },
      { name: "Chile", data: chile, color: BLUE, marker: "circle" },
      { name: "Colombia", data: colombia, color: GREEN, marker: "plus", size: 2.6 },
      { name: "Argentina", data: argentina, color: GRAY, marker: "diamondH" },
    ],
    legend: { cols: [720, 813, 904, 1021], rows: [1101], symLen: 31, gap: 9 },
  },
  {
    title: "Middle East", titleX: 309, titleY: 1166, font: SERIF, titleSize: 19,
    yAxisX: 36, xAxisY: 1440, top: 1175, right: 582,
    xPix: [45, 573], yZeroPix: 1432, yRefPix: 1183, yRef: 30,
    xTicks: ticks1980, yTicks: yTicks30, grid: [5, 10, 15, 20, 25, 30],
    series: [
      { name: "Qatar", data: qatar, color: RED, marker: "circleH" },
      { name: "UAE", data: uae, color: BLUE, marker: "circle" },
      { name: "Kuwait", data: kuwait, color: GREEN, marker: "plus", size: 2.6 },
      { name: "Jordan", data: jordan, color: GRAY, marker: "diamondH" },
    ],
    legend: { cols: [128, 221, 311, 414], rows: [1482], symLen: 32, gap: 8 },
  },
  {
    title: "Nordic countries", titleX: 921, titleY: 1166, font: SERIF, titleSize: 19,
    yAxisX: 647, xAxisY: 1440, top: 1175, right: 1194,
    xPix: [657, 1184], yZeroPix: 1432, yRefPix: 1183, yRef: 30,
    xTicks: ticks1950, yTicks: yTicks30, grid: [5, 10, 15, 20, 25],
    series: [
      { name: "Denmark", data: denmark, color: RED, marker: "circleH" },
      { name: "Sweden", data: sweden, color: BLUE, marker: "circle" },
      { name: "Finland", data: finland, color: GREEN, marker: "plus", size: 2.6 },
      { name: "Norway", data: norway, color: GRAY, marker: "diamondH" },
    ],
    legend: { cols: [715, 828, 933, 1035], rows: [1482], symLen: 32, gap: 8 },
  },
];

function Marker({ kind, x, y, color, size }: { kind: MarkerKind; x: number; y: number; color: string; size?: number }) {
  const s = size ?? 3;
  switch (kind) {
    case "circleH":
      return <circle cx={x} cy={y} r={s} fill="none" stroke={color} strokeWidth={1} />;
    case "circle":
      return <circle cx={x} cy={y} r={s} fill={color} />;
    case "dot":
      return <circle cx={x} cy={y} r={Math.max(1.3, s * 0.55)} fill={color} />;
    case "diamond":
    case "diamondH": {
      const d = s * 1.3;
      const pts = `${x},${y - d} ${x + d},${y} ${x},${y + d} ${x - d},${y}`;
      return kind === "diamond"
        ? <polygon points={pts} fill={color} />
        : <polygon points={pts} fill="none" stroke={color} strokeWidth={1} />;
    }
    case "square":
      return <rect x={x - s} y={y - s} width={2 * s} height={2 * s} fill={color} />;
    case "squareH":
      return <rect x={x - s} y={y - s} width={2 * s} height={2 * s} fill="none" stroke={color} strokeWidth={1} />;
    case "triangle":
    case "triangleH": {
      const r = s * 1.3;
      const pts = `${x},${y - r} ${x + r * 0.866},${y + r * 0.5} ${x - r * 0.866},${y + r * 0.5}`;
      return kind === "triangle"
        ? <polygon points={pts} fill={color} />
        : <polygon points={pts} fill="none" stroke={color} strokeWidth={1} />;
    }
    case "plus":
      return (
        <g stroke={color} strokeWidth={1}>
          <line x1={x - s} y1={y} x2={x + s} y2={y} />
          <line x1={x} y1={y - s} x2={x} y2={y + s} />
        </g>
      );
  }
  return null;
}

const AXIS = "#4a4a4a";
const GRID = "#3a3a3a";

function Panel({ p }: { p: PanelSpec }) {
  const x = d3.scaleLinear()
    .domain([p.xTicks[0], p.xTicks[p.xTicks.length - 1]])
    .range(p.xPix);
  const y = d3.scaleLinear().domain([0, p.yRef]).range([p.yZeroPix, p.yRefPix]);
  const line = d3.line<Pt>().x((d) => x(d[0])).y((d) => y(d[1]));
  const nCols = p.legend.cols.length;

  return (
    <g fontFamily={p.font}>
      <text x={p.titleX} y={p.titleY} textAnchor="middle" fontSize={p.titleSize} fill="#000">
        {p.title}
      </text>

      {p.grid.map((v) => (
        <line key={"g" + v} x1={p.yAxisX} x2={p.right} y1={y(v)} y2={y(v)} stroke={GRID} strokeWidth={1.3} />
      ))}

      {/* axes */}
      <line x1={p.yAxisX} x2={p.yAxisX} y1={p.top} y2={p.xAxisY} stroke={AXIS} strokeWidth={1.4} />
      <line x1={p.yAxisX} x2={p.right} y1={p.xAxisY} y2={p.xAxisY} stroke={AXIS} strokeWidth={1.4} />

      {p.yTicks.map((v) => (
        <g key={"y" + v}>
          <line x1={p.yAxisX - 5} x2={p.yAxisX} y1={y(v)} y2={y(v)} stroke={AXIS} strokeWidth={1.2} />
          <text x={p.yAxisX - 8} y={y(v)} dy="0.35em" textAnchor="end" fontSize={13.5} fill="#000">
            {v}
          </text>
        </g>
      ))}
      {p.xTicks.map((v) => (
        <g key={"x" + v}>
          <line x1={x(v)} x2={x(v)} y1={p.xAxisY} y2={p.xAxisY + 5} stroke={AXIS} strokeWidth={1.2} />
          <text x={x(v)} y={p.xAxisY + 18} textAnchor="middle" fontSize={13.5} fill="#000">
            {v}
          </text>
        </g>
      ))}

      {p.series.map((s) => (
        <g key={s.name}>
          <path d={line(s.data) ?? ""} fill="none" stroke={s.color} strokeWidth={1.1} />
          {s.data.map((d, i) => (
            <Marker key={i} kind={s.marker} x={x(d[0])} y={y(d[1])} color={s.color} size={s.size} />
          ))}
        </g>
      ))}

      {p.series.map((s, i) => {
        const cx = p.legend.cols[i % nCols];
        const cy = p.legend.rows[Math.floor(i / nCols)];
        const len = p.legend.symLen;
        return (
          <g key={"l" + s.name}>
            <line x1={cx} x2={cx + len} y1={cy} y2={cy} stroke={s.color} strokeWidth={1.3} />
            <Marker kind={s.marker} x={cx + len / 2} y={cy} color={s.color} size={s.size} />
            <text x={cx + len + p.legend.gap} y={cy} dy="0.35em" fontSize={13.5} fill="#000">
              {s.name}
            </text>
          </g>
        );
      })}
    </g>
  );
}

export default function App() {
  return (
    <div style={{ position: "absolute", left: 0, top: 0, background: "#fff" }}>
      <svg width={1209} height={1492} viewBox="0 0 1209 1492" style={{ display: "block", background: "#fff" }}>
        <rect x={0} y={0} width={1209} height={1492} fill="#fff" />
        {panels.map((p) => (
          <Panel key={p.title} p={p} />
        ))}
      </svg>
    </div>
  );
}
